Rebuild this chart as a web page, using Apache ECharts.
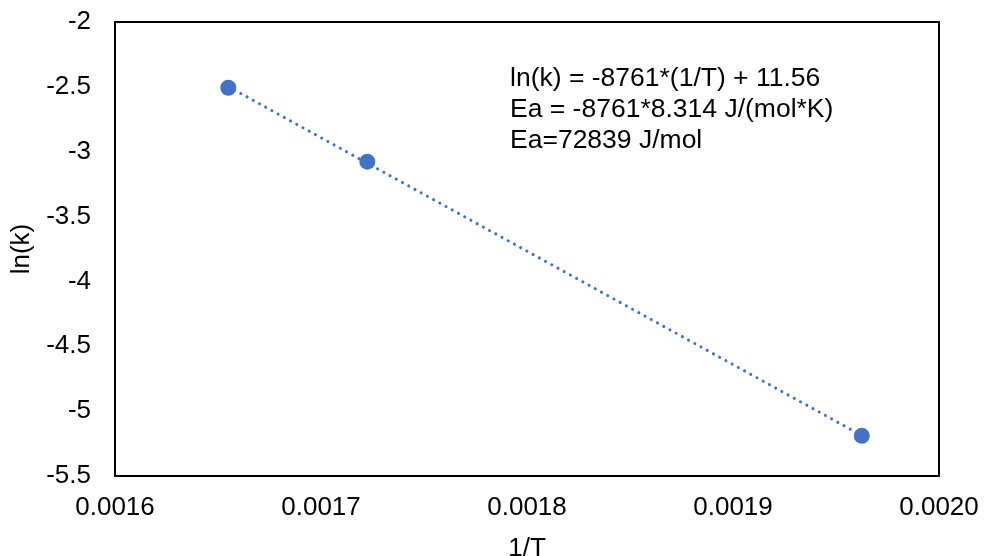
<!DOCTYPE html>
<html>
<head>
<meta charset="utf-8">
<script src="https://cdn.jsdelivr.net/npm/echarts@6/dist/echarts.min.js"></script>
<style>
html,body{margin:0;padding:0;background:#fff;}
#chart{width:985px;height:556px;}
</style>
</head>
<body>
<div id="chart"></div>
<script>
// Data (1/T, ln(k))
const invT = [0.001655, 0.0017225, 0.0019625];
const lnK = [-2.507, -3.077, -5.190];
const xTicks = ['0.0016', '0.0017', '0.0018', '0.0019', '0.0020'];
const yTicks = ['-5.5', '-5', '-4.5', '-4', '-3.5', '-3', '-2.5', '-2'];
const annotationLines = [
  'ln(k) = -8761*(1/T) + 11.56',
  'Ea = -8761*8.314 J/(mol*K)',
  'Ea=72839 J/mol'
];

// least-squares trendline through the data
const n = invT.length;
const mx = invT.reduce((a, b) => a + b, 0) / n;
const my = lnK.reduce((a, b) => a + b, 0) / n;
let sxy = 0, sxx = 0;
for (let i = 0; i < n; i++) { sxy += (invT[i] - mx) * (lnK[i] - my); sxx += (invT[i] - mx) ** 2; }
const slope = sxy / sxx, icpt = my - slope * mx;
const xMin = Math.min(...invT), xMax = Math.max(...invT);
const trend = [[xMin, slope * xMin + icpt], [xMax, slope * xMax + icpt]];

const FONT = 'Liberation Sans, Arial, sans-serif';
const FS = 26;
const chart = echarts.init(document.getElementById('chart'), null, {renderer: 'canvas'});
chart.setOption({
  animation: false,
  backgroundColor: '#fff',
  grid: {left: 115, right: 46, top: 22, bottom: 80, outerBoundsMode: 'none', containLabel: false,
    show: true, borderColor: '#000', borderWidth: 2, backgroundColor: 'transparent'},
  xAxis: {
    type: 'value', min: 0.0016, max: 0.0020, interval: 0.0001,
    name: '1/T', nameLocation: 'middle', nameGap: 60,
    nameTextStyle: {color: '#000', fontSize: FS, fontFamily: FONT},
    axisLine: {show: false}, axisTick: {show: false}, splitLine: {show: false},
    axisLabel: {color: '#000', fontSize: FS, fontFamily: FONT, margin: 19,
      formatter: v => xTicks[Math.round((v - 0.0016) / 0.0001)] ?? ''}
  },
  yAxis: {
    type: 'value', min: -5.5, max: -2, interval: 0.5,
    name: 'ln(k)', nameLocation: 'middle', nameGap: 77, nameRotate: 90,
    nameTextStyle: {color: '#000', fontSize: FS, fontFamily: FONT},
    axisLine: {show: false}, axisTick: {show: false}, splitLine: {show: false},
    axisLabel: {color: '#000', fontSize: FS, fontFamily: FONT, margin: 24,
      formatter: v => yTicks[Math.round((v + 5.5) / 0.5)] ?? ''}
  },
  graphic: [{
    type: 'text', left: 510, top: 63,
    style: {text: annotationLines.join('\n'), fill: '#000', fontSize: 26.5, fontFamily: FONT, lineHeight: 31}
  }],
  series: [
    {
      type: 'line', data: trend, symbol: 'none', z: 2,
      lineStyle: {color: '#4472C4', width: 3, type: [0.1, 7], cap: 'round'}
    },
    {
      type: 'scatter', data: invT.map((x, i) => [x, lnK[i]]), symbol: 'circle', symbolSize: 16, z: 3,
      itemStyle: {color: '#4472C4', opacity: 1}
    }
  ]
});
</script>
</body>
</html>
